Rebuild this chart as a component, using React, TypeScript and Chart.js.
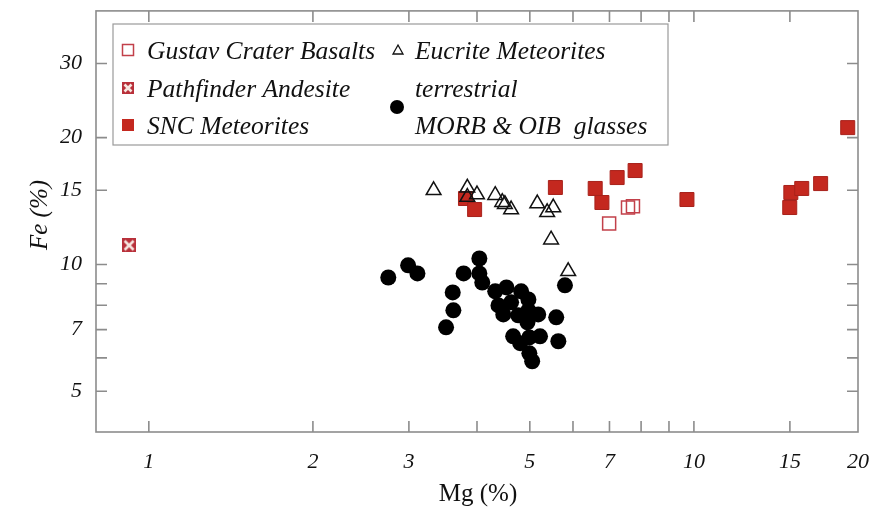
import { useEffect, useRef } from "react";
import { Chart, registerables } from "chart.js";
Chart.register(...registerables);

// ---- axis ticks ----
const xTickValues = [1, 2, 3, 5, 7, 10, 15, 20];
const xMinorTicks = [4, 6, 8, 9];
const yTickValues = [5, 7, 10, 15, 20, 30];
const yMinorTicks = [6, 8, 9];

// ---- data (Mg %, Fe %) ----
const gustavMg = [6.99, 7.57, 7.73];
const gustavFe = [12.5, 13.65, 13.75];

const pathfinderMg = [0.92];
const pathfinderFe = [11.1];

const sncMg = [3.81, 3.96, 5.57, 6.59, 6.78, 7.23, 7.8, 9.71, 15.06, 15.77, 17.08, 14.99, 19.15];
const sncFe = [14.34, 13.5, 15.23, 15.15, 14.03, 16.08, 16.71, 14.26, 14.82, 15.15, 15.56, 13.65, 21.13];

const eucriteMg = [3.33, 3.84, 3.84, 4.0, 4.32, 4.45, 4.5, 4.62, 5.16, 5.38, 5.52, 5.47, 5.88];
const eucriteFe = [15.0, 15.2, 14.45, 14.65, 14.6, 14.05, 13.9, 13.5, 13.95, 13.3, 13.65, 11.45, 9.63];

const terrMg = [2.75, 2.99, 3.11, 3.51, 3.61, 3.62, 3.78, 4.04, 4.04, 4.09, 4.32, 4.53, 4.38, 4.47, 4.62,
  4.82, 4.97, 4.76, 4.95, 4.97, 5.18, 5.59, 4.66, 4.8, 4.99, 5.22, 4.99, 5.05, 5.64, 5.8];
const terrFe = [9.31, 9.95, 9.52, 7.09, 8.58, 7.78, 9.52, 10.33, 9.52, 9.06, 8.63, 8.82, 7.99, 7.61, 8.13,
  8.63, 8.26, 7.57, 7.29, 7.78, 7.61, 7.49, 6.75, 6.5, 6.71, 6.75, 6.15, 5.89, 6.57, 8.92];

const legendLeft = ["Gustav Crater Basalts", "Pathfinder Andesite", "SNC Meteorites"];
const legendRight = ["Eucrite Meteorites", "terrestrial", "MORB & OIB  glasses"];

const RED = "#c4281f";
const RED_DARK = "#a8221b";
const RED_OPEN = "#c2404a";
const FRAME = "#8c8c8c";
const SERIF = "'Liberation Serif', 'DejaVu Serif', serif";

const pts = (xs: number[], ys: number[]) => xs.map((x, i) => ({ x, y: ys[i] }));

function makePathfinderIcon(size: number) {
  const c = document.createElement("canvas");
  c.width = size;
  c.height = size;
  const g = c.getContext("2d")!;
  g.fillStyle = "#b8303a";
  g.fillRect(0, 0, size, size);
  g.strokeStyle = "#f6e6e0";
  g.lineWidth = 2.6;
  g.beginPath();
  g.moveTo(2.5, 2.5);
  g.lineTo(size - 2.5, size - 2.5);
  g.moveTo(size - 2.5, 2.5);
  g.lineTo(2.5, size - 2.5);
  g.stroke();
  return c;
}

const frameTicksPlugin = {
  id: "frameTicks",
  beforeDatasetsDraw(chart: any) {
    const { ctx, chartArea: a, scales } = chart;
    const xs = scales.x;
    const ys = scales.y;
    const L = 11;
    ctx.save();
    ctx.strokeStyle = FRAME;
    ctx.lineWidth = 1.6;
    ctx.strokeRect(a.left, a.top, a.right - a.left, a.bottom - a.top);
    ctx.beginPath();
    [...xTickValues, ...xMinorTicks].forEach((v) => {
      const px = xs.getPixelForValue(v);
      if (px <= a.left + 1 || px >= a.right - 1) return;
      ctx.moveTo(px, a.bottom);
      ctx.lineTo(px, a.bottom - L);
      ctx.moveTo(px, a.top);
      ctx.lineTo(px, a.top + L);
    });
    [...yTickValues, ...yMinorTicks].forEach((v) => {
      const py = ys.getPixelForValue(v);
      if (py <= a.top + 1 || py >= a.bottom - 1) return;
      ctx.moveTo(a.left, py);
      ctx.lineTo(a.left + L, py);
      ctx.moveTo(a.right, py);
      ctx.lineTo(a.right - L, py);
    });
    ctx.stroke();
    ctx.restore();
  },
};

const overlayPlugin = {
  id: "overlay",
  afterDraw(chart: any) {
    const { ctx, chartArea: a } = chart;
    ctx.save();
    // axis titles
    ctx.fillStyle = "#111";
    ctx.textAlign = "center";
    ctx.textBaseline = "middle";
    ctx.font = `25px ${SERIF}`;
    ctx.fillText("Mg (%)", 478, 494);
    ctx.save();
    ctx.translate(40, 215);
    ctx.rotate(-Math.PI / 2);
    ctx.font = `italic 25px ${SERIF}`;
    ctx.fillText("Fe (%)", 0, 0);
    ctx.restore();

    // legend box
    const bx = 113, by = 24, bw = 555, bh = 121;
    ctx.fillStyle = "#fff";
    ctx.fillRect(bx, by, bw, bh);
    ctx.strokeStyle = "#9a9a9a";
    ctx.lineWidth = 1.2;
    ctx.strokeRect(bx, by, bw, bh);

    const rows = [50, 88, 125];
    // left column markers
    ctx.strokeStyle = RED_OPEN;
    ctx.lineWidth = 1.5;
    ctx.strokeRect(122.5, rows[0] - 5.5, 11, 11);
    ctx.drawImage(makePathfinderIcon(12), 122, rows[1] - 6);
    ctx.fillStyle = RED;
    ctx.fillRect(122, rows[2] - 6, 12, 12);
    // right column markers
    ctx.strokeStyle = "#111";
    ctx.lineWidth = 1.3;
    ctx.beginPath();
    ctx.moveTo(398, rows[0] - 5);
    ctx.lineTo(403, rows[0] + 4);
    ctx.lineTo(393, rows[0] + 4);
    ctx.closePath();
    ctx.stroke();
    ctx.fillStyle = "#000";
    ctx.beginPath();
    ctx.arc(397, 107, 7, 0, Math.PI * 2);
    ctx.fill();

    ctx.fillStyle = "#111";
    ctx.textAlign = "left";
    ctx.textBaseline = "alphabetic";
    ctx.font = `italic 25.5px ${SERIF}`;
    const base = [59, 97, 134];
    legendLeft.forEach((t, i) => ctx.fillText(t, 147, base[i]));
    legendRight.forEach((t, i) => ctx.fillText(t, 415, base[i]));
    ctx.restore();
  },
};

export default function App() {
  const ref = useRef<HTMLCanvasElement | null>(null);
  useEffect(() => {
    if (!ref.current) return;
    const icon = makePathfinderIcon(14);
    const chart = new Chart(ref.current, {
      type: "scatter",
      data: {
        datasets: [
          {
            label: "Eucrite Meteorites",
            data: pts(eucriteMg, eucriteFe),
            pointStyle: "triangle",
            pointRadius: 8.5,
            backgroundColor: "rgba(255,255,255,0)",
            borderColor: "#111",
            borderWidth: 1.5,
          },
          {
            label: "Gustav Crater Basalts",
            data: pts(gustavMg, gustavFe),
            pointStyle: "rect",
            pointRadius: 9.2,
            backgroundColor: "rgba(255,255,255,0)",
            borderColor: RED_OPEN,
            borderWidth: 1.5,
          },
          {
            label: "SNC Meteorites",
            data: pts(sncMg, sncFe),
            pointStyle: "rect",
            pointRadius: 9.9,
            backgroundColor: RED,
            borderColor: RED_DARK,
            borderWidth: 1,
          },
          {
            label: "Pathfinder Andesite",
            data: pts(pathfinderMg, pathfinderFe),
            pointStyle: icon as any,
            pointRadius: 7,
          },
          {
            label: "terrestrial MORB & OIB glasses",
            data: pts(terrMg, terrFe),
            pointStyle: "circle",
            pointRadius: 8,
            backgroundColor: "#000",
            borderColor: "#000",
            borderWidth: 0,
          },
        ],
      },
      options: {
        responsive: false,
        animation: false,
        events: [],
        layout: { padding: { left: 0, top: 10, right: 24, bottom: 0 } },
        plugins: { legend: { display: false }, tooltip: { enabled: false } },
        scales: {
          x: {
            type: "logarithmic",
            min: 0.8,
            max: 20,
            grid: { display: false, drawTicks: false },
            border: { display: false },
            afterBuildTicks: (s: any) => {
              s.ticks = xTickValues.map((v) => ({ value: v }));
            },
            afterFit: (s: any) => {
              s.height = 81;
              s.paddingLeft = 0;
              s.paddingRight = 0;
              s.paddingTop = 0;
              s.paddingBottom = 0;
            },
            ticks: {
              autoSkip: false,
              maxRotation: 0,
              minRotation: 0,
              padding: 17,
              color: "#111",
              font: { family: SERIF, size: 22, style: "italic" },
              callback: (v: any) => String(v),
            },
          },
          y: {
            type: "logarithmic",
            min: 4,
            max: 40,
            grid: { display: false, drawTicks: false },
            border: { display: false },
            afterBuildTicks: (s: any) => {
              s.ticks = yTickValues.map((v) => ({ value: v }));
            },
            afterFit: (s: any) => {
              s.width = 96;
              s.paddingLeft = 0;
              s.paddingRight = 0;
              s.paddingTop = 0;
              s.paddingBottom = 0;
            },
            ticks: {
              autoSkip: false,
              padding: 14,
              color: "#111",
              font: { family: SERIF, size: 22, style: "italic" },
              callback: (v: any) => String(v),
            },
          },
        },
      },
      plugins: [frameTicksPlugin, overlayPlugin],
    });
    return () => chart.destroy();
  }, []);
  return (
    <div style={{ position: "absolute", left: 0, top: 0, width: 882, height: 513, background: "#fff" }}>
      <canvas ref={ref} width={882} height={513} style={{ display: "block" }} />
    </div>
  );
}
